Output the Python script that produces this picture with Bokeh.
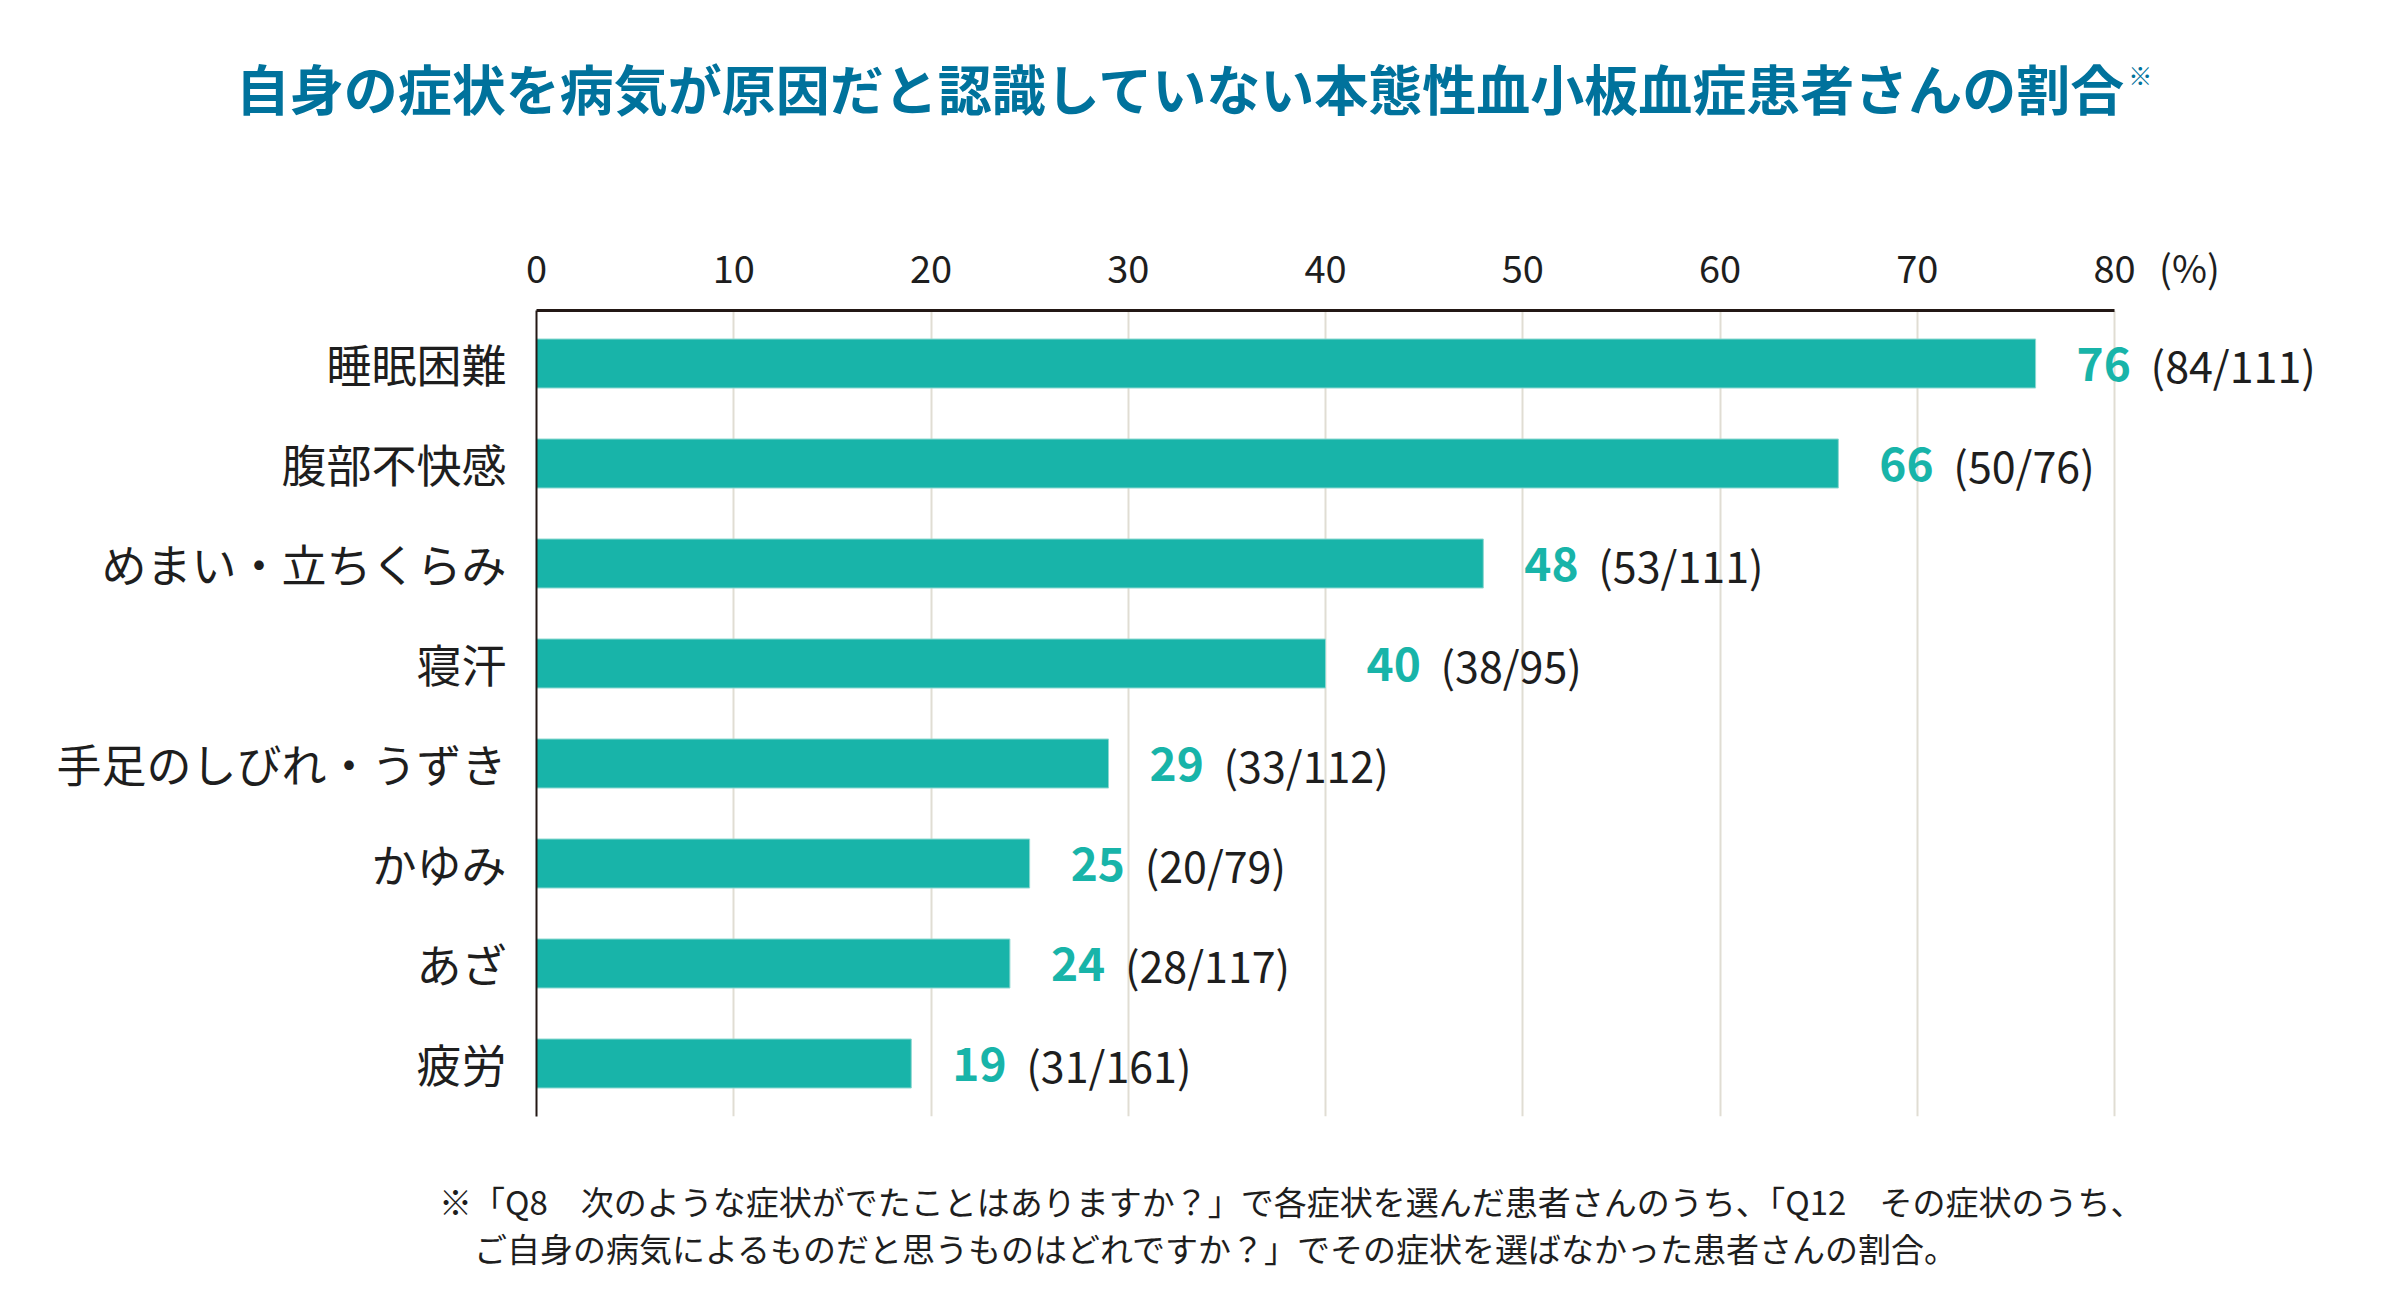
from bokeh.plotting import figure
from bokeh.models import (ColumnDataSource, FactorRange, Range1d, FixedTicker,
                          LinearAxis, LabelSet, Div)
from bokeh.layouts import column
from bokeh.core.properties import value
from bokeh.embed import file_html
from bokeh.resources import INLINE

# --- data ---
categories = [
    "睡眠困難",
    "腹部不快感",
    "めまい・立ちくらみ",
    "寝汗",
    "手足のしびれ・うずき",
    "かゆみ",
    "あざ",
    "疲労",
]
percent = [76, 66, 48, 40, 29, 25, 24, 19]
numerators = [84, 50, 53, 38, 33, 20, 28, 31]
denominators = [111, 76, 111, 95, 112, 79, 117, 161]
x_ticks = [0, 10, 20, 30, 40, 50, 60, 70, 80]
unit_label = "(%)"

title_text = "自身の症状を病気が原因だと認識していない本態性血小板血症患者さんの割合"
note_1 = "※「Q8　次のような症状がでたことはありますか？」で各症状を選んだ患者さんのうち、「Q12　その症状のうち、"
note_2 = "ご自身の病気によるものだと思うものはどれですか？」でその症状を選ばなかった患者さんの割合。"

FONT = "Noto Sans CJK JP"
TEAL = "#18b4a9"
TITLE_BLUE = "#00729c"
INK = "#1e1e1e"
AXIS_INK = "#231815"

W = 2384
TITLE_H = 158
NOTE_H = 136
FIG_H = 1006

# frame geometry: 0..80 spans 1578 px, frame runs on to the right so labels are not cut
PX_PER_UNIT = 1578 / 80
BORDER_L, BORDER_R = 528, 10
X_END = (W - BORDER_L - BORDER_R) / PX_PER_UNIT
UNIT_TICK = 83.8

src = ColumnDataSource(dict(
    cat=categories,
    pct=percent,
    pct_txt=[str(v) for v in percent],
    frac_txt=[f"({n}/{d})" for n, d in zip(numerators, denominators)],
))

p = figure(
    width=W,
    height=FIG_H,
    y_range=FactorRange(factors=list(reversed(categories)), range_padding=0.03,
                        range_padding_units="absolute"),
    x_range=Range1d(0, X_END),
    x_axis_location="above",
    output_backend="svg",
    toolbar_location=None,
    tools="",
    min_border_left=BORDER_L,
    min_border_right=BORDER_R,
    min_border_top=152,
    min_border_bottom=48,
    margin=(0, 0, 0, 8),
)
p.title = None
p.outline_line_color = None
p.background_fill_color = "white"
p.border_fill_color = "white"

p.hbar(y="cat", right="pct", left=0, height=0.49, source=src,
       fill_color=TEAL, line_color="#8ed8d1", line_width=1)

# top axis line (0..80 only), labels hidden
ax_line = p.xaxis[0]
ax_line.ticker = FixedTicker(ticks=x_ticks)
ax_line.bounds = (0, 80)
ax_line.axis_line_color = AXIS_INK
ax_line.axis_line_width = 3
ax_line.major_tick_line_color = None
ax_line.minor_tick_line_color = None
ax_line.major_label_text_alpha = 0
ax_line.major_label_text_font_size = "1px"
ax_line.major_label_standoff = 0

# tick labels incl. unit
ax_lab = LinearAxis(
    ticker=FixedTicker(ticks=x_ticks + [UNIT_TICK]),
    major_label_overrides={UNIT_TICK: unit_label},
    axis_line_color=None,
    major_tick_line_color=None,
    minor_tick_line_color=None,
    major_label_text_font=FONT,
    major_label_text_font_size="38px",
    major_label_text_color=INK,
    major_label_standoff=5,
)
p.add_layout(ax_lab, "above")

p.yaxis.axis_line_color = AXIS_INK
p.yaxis.axis_line_width = 2
p.yaxis.major_tick_line_color = None
p.yaxis.minor_tick_line_color = None
p.yaxis.major_label_text_font = FONT
p.yaxis.major_label_text_font_size = "45px"
p.yaxis.major_label_text_color = INK
p.yaxis.major_label_standoff = 24

p.xgrid.ticker = FixedTicker(ticks=x_ticks)
p.xgrid.grid_line_color = "#e0ddd3"
p.xgrid.grid_line_width = 2
p.ygrid.grid_line_color = None

# value labels
p.add_layout(LabelSet(x="pct", y="cat", text="pct_txt", source=src, x_offset=41,
                      text_font=value(FONT), text_font_size="46px", text_font_style="bold",
                      text_color=TEAL, text_baseline="middle"))
p.add_layout(LabelSet(x="pct", y="cat", text="frac_txt", source=src, x_offset=115,
                      text_font=value(FONT), text_font_size="43px",
                      text_color=INK, text_baseline="middle"))

title_div = Div(
    text=(f'<div style="width:{W}px;text-align:center;padding-top:61px;'
          f'font-family:\'{FONT}\';font-size:54px;font-weight:bold;line-height:54px;'
          f'color:{TITLE_BLUE};white-space:nowrap">{title_text}'
          f'<span style="font-size:24px;font-weight:normal;vertical-align:top;'
          f'line-height:24px;position:relative;top:2px;left:4px">※</span></div>'),
    width=W, height=TITLE_H, margin=0,
)

note_div = Div(
    text=(f'<div style="font-family:\'{FONT}\';font-size:33px;line-height:47px;'
          f'color:{INK};padding-top:14px;padding-left:439px;white-space:nowrap">'
          f'<div>{note_1}</div><div style="padding-left:35px">{note_2}</div></div>'),
    width=W, height=NOTE_H, margin=0,
)

layout = column(title_div, p, note_div, spacing=0)

open("out.html", "w").write(file_html(layout, INLINE))
